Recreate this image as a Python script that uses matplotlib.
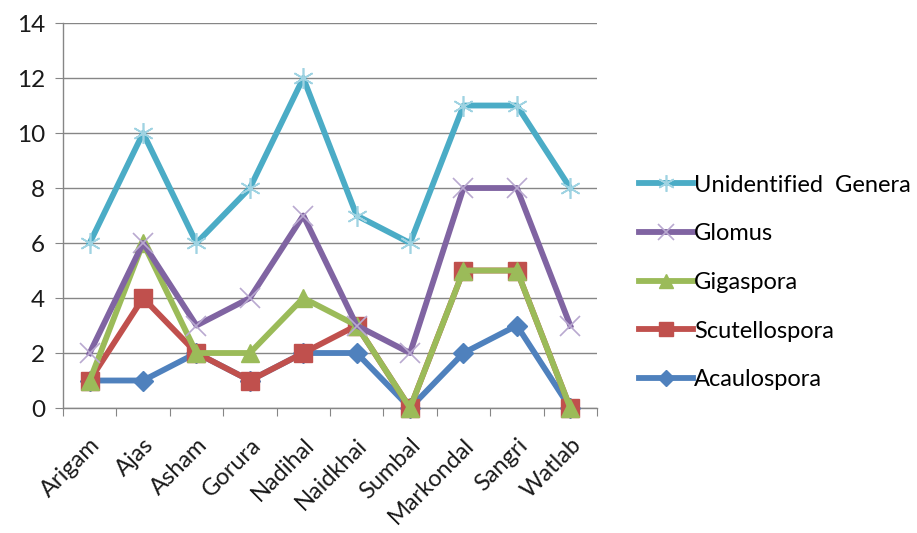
import numpy as np
import matplotlib
matplotlib.use("Agg")
import matplotlib.pyplot as plt
from matplotlib.lines import Line2D

sites = ["Arigam", "Ajas", "Asham", "Gorura", "Nadihal", "Naidkhai",
         "Sumbal", "Markondal", "Sangri", "Watlab"]
acaulospora = [1, 1, 2, 1, 2, 2, 0, 2, 3, 0]
scutellospora = [1, 4, 2, 1, 2, 3, 0, 5, 5, 0]
gigaspora = [1, 6, 2, 2, 4, 3, 0, 5, 5, 0]
glomus = [2, 6, 3, 4, 7, 3, 2, 8, 8, 3]
unidentified = [6, 10, 6, 8, 12, 7, 6, 11, 11, 8]
y_ticks = [0, 2, 4, 6, 8, 10, 12, 14]

plt.rcParams["font.family"] = ["Lato", "DejaVu Sans"]

fig = plt.figure(figsize=(9.17, 5.33), dpi=100)
ax = fig.add_axes([0.0687, 0.2345, 0.5823, 0.7223])

x = np.arange(len(sites))
grid_c = "#868686"
txt_c = "#1a1a1a"

series = [
    ("Acaulospora", acaulospora, "#4F81BD", dict(marker="D", ms=10, mfc="#4F81BD", mec="#4F81BD")),
    ("Scutellospora", scutellospora, "#C0504D", dict(marker="s", ms=12.5, mfc="#C0504D", mec="#C0504D")),
    ("Gigaspora", gigaspora, "#9BBB59", dict(marker="^", ms=13, mfc="#9BBB59", mec="#9BBB59")),
    ("Glomus", glomus, "#8064A2", dict(marker="x", ms=14, mfc="none", mec="#B9A9D0", mew=1.2)),
    ("Unidentified  Genera", unidentified, "#4BACC6", dict(marker=(6, 2, 0), ms=15, mfc="none", mec="#9FD3E2", mew=1.2)),
]

handles = []
for name, vals, col, mk in series:
    ax.plot(x, vals, color=col, lw=4.2, solid_joinstyle="round", zorder=3, clip_on=False, **mk)
    lk = dict(mk)
    lk["ms"] = mk["ms"] * 0.8
    handles.append(Line2D([0], [0], color=col, lw=4.2, label=name, **lk))

ax.set_xlim(-0.5, len(sites) - 0.5)
ax.set_ylim(0, 14)
ax.set_yticks(y_ticks)
ax.set_yticklabels([str(v) for v in y_ticks], fontsize=17.5, color=txt_c)
ax.yaxis.grid(True, color=grid_c, lw=1)
ax.set_axisbelow(True)

ax.set_xticks(np.arange(len(sites) + 1) - 0.5)
ax.set_xticklabels([])
ax.set_xticks(x, minor=True)
ax.set_xticklabels(sites, minor=True, rotation=45, ha="right", va="top",
                   rotation_mode="anchor", fontsize=17, color=txt_c)
ax.tick_params(axis="x", which="minor", length=0, pad=19)
ax.tick_params(axis="x", which="major", length=6, color=grid_c, direction="out")
ax.tick_params(axis="y", length=6, color=grid_c, direction="out", pad=7)

for s in ["top", "right"]:
    ax.spines[s].set_visible(False)
for s in ["left", "bottom"]:
    ax.spines[s].set_color(grid_c)
    ax.spines[s].set_linewidth(1)

fig.legend(handles=handles[::-1], loc="upper left", bbox_to_anchor=(0.686, 0.69),
           frameon=False, fontsize=17, handlelength=2.3, handletextpad=0.05,
           labelspacing=1.17, borderaxespad=0)

fig.savefig("out.png", dpi=100)
